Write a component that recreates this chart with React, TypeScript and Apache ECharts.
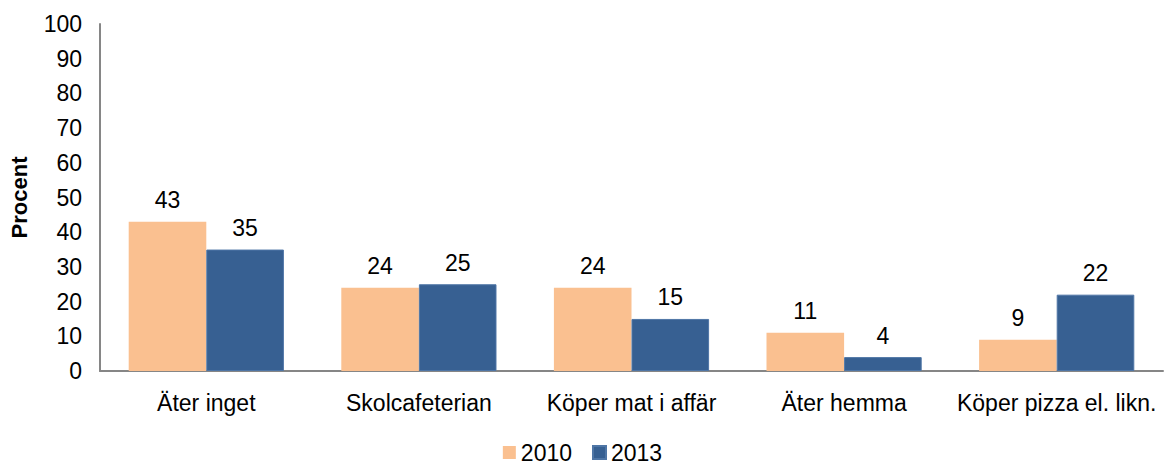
import React, { useEffect, useRef } from "react";
import * as echarts from "echarts";

const categories = ["Äter inget", "Skolcafeterian", "Köper mat i affär", "Äter hemma", "Köper pizza el. likn."];
const values2010 = [43, 24, 24, 11, 9];
const values2013 = [35, 25, 15, 4, 22];
const seriesNames = ["2010", "2013"];

const FONT = "'Liberation Sans', Arial, sans-serif";

export default function App() {
  const ref = useRef<HTMLDivElement>(null);
  useEffect(() => {
    if (!ref.current) return;
    const chart = echarts.init(ref.current, undefined, { renderer: "svg" });
    const labelStyle = { show: true, position: "top" as const, distance: 10, color: "#000", fontSize: 23, fontFamily: FONT };
    chart.setOption({
      animation: false,
      textStyle: { fontFamily: FONT },
      grid: { left: 100, right: 2, top: 24, bottom: 95, containLabel: false },
      legend: {
        top: 441,
        padding: 0,
        left: "center",
        itemWidth: 13,
        itemHeight: 13,
        itemGap: 20,
        icon: "rect",
        textStyle: { fontSize: 23, color: "#000", fontFamily: FONT },
        data: seriesNames,
      },
      xAxis: {
        type: "category",
        data: categories,
        axisLine: { lineStyle: { color: "#868686", width: 2 } },
        axisTick: { show: false },
        axisLabel: { color: "#000", fontSize: 23, fontFamily: FONT, margin: 20, interval: 0 },
      },
      yAxis: {
        type: "value",
        min: 0,
        max: 100,
        interval: 10,
        name: "Procent",
        nameLocation: "middle",
        nameGap: 70,
        nameRotate: 90,
        nameTextStyle: { fontSize: 22, fontWeight: "bold", color: "#000", fontFamily: FONT },
        axisLine: { show: true, lineStyle: { color: "#868686", width: 2 } },
        axisTick: { show: false },
        splitLine: { show: false },
        axisLabel: { color: "#000", fontSize: 23, fontFamily: FONT, margin: 18 },
      },
      series: [
        {
          name: seriesNames[0],
          type: "bar",
          data: values2010,
          barWidth: "36.5%",
          barGap: "0%",
          itemStyle: { color: "#FAC090" },
          label: labelStyle,
        },
        {
          name: seriesNames[1],
          type: "bar",
          data: values2013,
          barWidth: "36.5%",
          barGap: "0%",
          itemStyle: { color: "#376092", borderColor: "#4F76A6", borderWidth: 1 },
          label: labelStyle,
        },
      ],
    });
    return () => chart.dispose();
  }, []);
  return <div ref={ref} style={{ position: "absolute", left: 0, top: 0, width: 1165, height: 466 }} />;
}
